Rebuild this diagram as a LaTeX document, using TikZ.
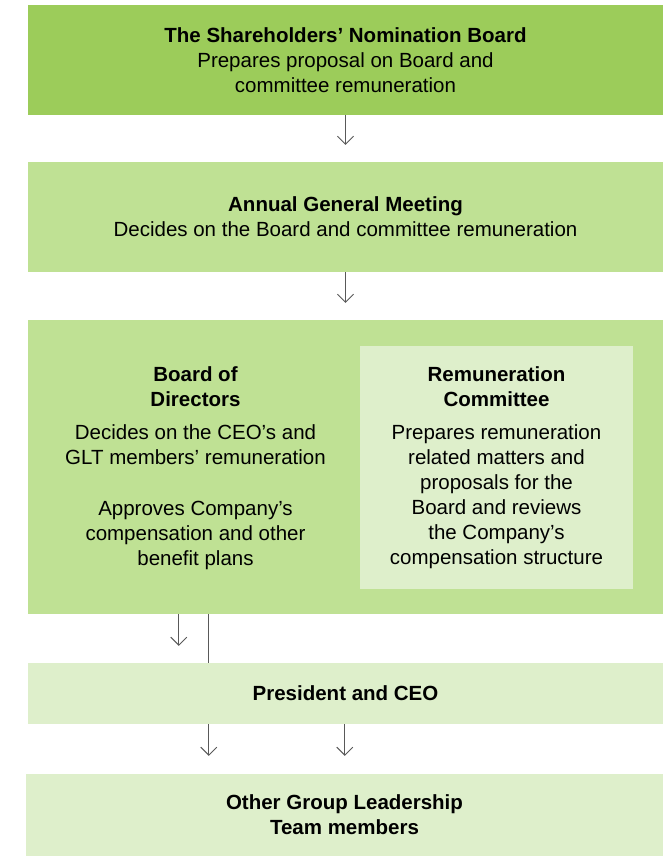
\documentclass[tikz,border=0pt]{standalone}
\usepackage{fontspec}
\setmainfont{Liberation Sans}
\usetikzlibrary{arrows.meta}

\definecolor{nomgreen}{RGB}{156,204,90}
\definecolor{midgreen}{RGB}{191,225,148}
\definecolor{palegreen}{RGB}{222,239,203}

\tikzset{
  govbox/.style={inner sep=0pt,align=center,font=\fontsize{20.5}{25}\selectfont},
  flowarr/.style={draw=black!65,line width=0.9pt,-{Straight Barb[length=8pt,width=16pt,line width=0.9pt]}}
}

\begin{document}
\begin{tikzpicture}[x=1pt,y=-1pt]
        \useasboundingbox[fill=white] (0,0) rectangle (665,856);
        % boxes, top to bottom
        \node[govbox,fill=nomgreen,minimum width=635pt,minimum height=110pt] (snb) at (345.5,60)
          {\textbf{The Shareholders’ Nomination Board}\\Prepares proposal on Board and\\committee remuneration};
        \node[govbox,fill=midgreen,minimum width=635pt,minimum height=110pt] (agm) at (345.5,217)
          {\textbf{Annual General Meeting}\\Decides on the Board and committee remuneration};
        \node[govbox,fill=midgreen,minimum width=635pt,minimum height=294pt] (board) at (345.5,467) {};
        \node[govbox,fill=palegreen,minimum width=273pt,minimum height=243pt] (remco) at (496.5,467.5)
          {\textbf{Remuneration}\\\textbf{Committee}\\[8pt]Prepares remuneration\\related matters and\\proposals for the\\Board and reviews\\the Company’s\\compensation structure};
        \node[govbox] (bod) at (195.5,468)
          {\textbf{Board of}\\\textbf{Directors}\\[8pt]Decides on the CEO’s and\\GLT members’ remuneration\\[26pt]Approves Company’s\\compensation and other\\benefit plans};
        \node[govbox,fill=palegreen,minimum width=635pt,minimum height=61pt] (ceo) at (345.5,693.5)
          {\textbf{President and CEO}};
        \node[govbox,fill=palegreen,minimum width=637pt,minimum height=82pt] (glt) at (344.5,815)
          {\textbf{Other Group Leadership}\\\textbf{Team members}};
        % connectors
        \draw[flowarr,shorten >=17pt] (snb.south) -- (agm.north);
        \draw[flowarr,shorten >=17pt] (agm.south) -- (board.north);
        \draw[flowarr,shorten >=17pt] ([xshift=151pt]board.south west) -- ([xshift=151pt]ceo.north west);
        \draw[draw=black!65,line width=0.9pt] ([xshift=181pt]board.south west) -- ([xshift=181pt]ceo.north west);
        \draw[flowarr,shorten >=18pt] ([xshift=181pt]ceo.south west) -- ([xshift=183pt]glt.north west);
        \draw[flowarr,shorten >=18pt] ([xshift=317pt]ceo.south west) -- ([xshift=319pt]glt.north west);
\end{tikzpicture}
\end{document}
